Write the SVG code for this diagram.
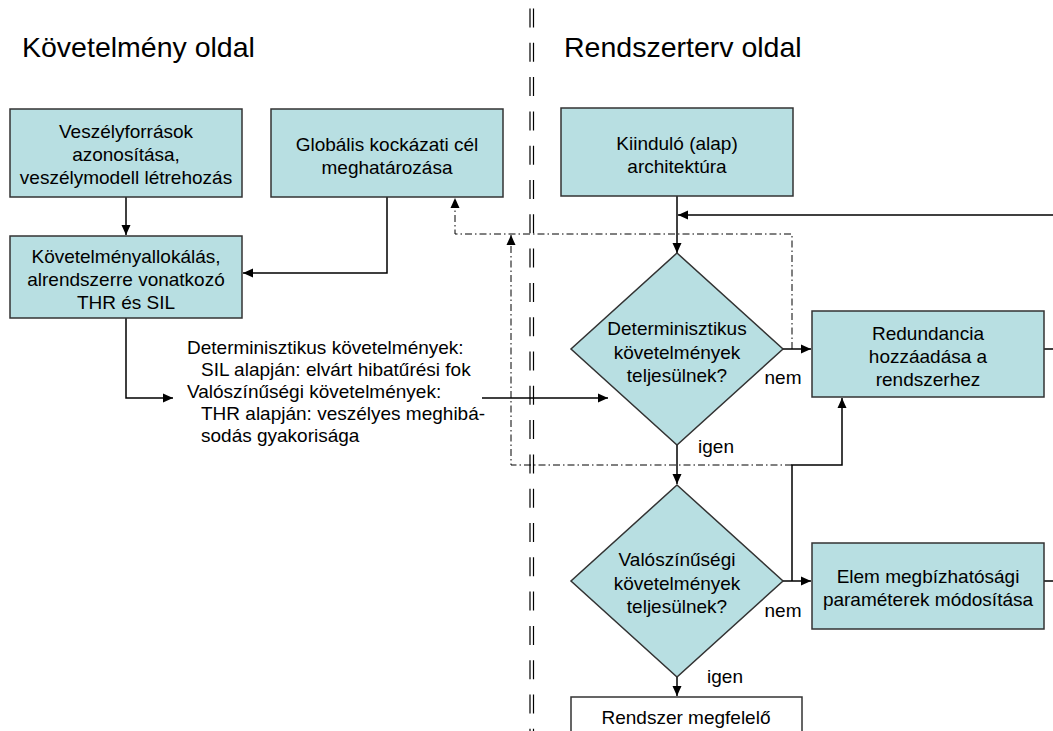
<svg xmlns="http://www.w3.org/2000/svg" width="1053" height="731" viewBox="0 0 1053 731">
<style>
.bg{fill:#ffffff}
.node{fill:#b8dfe2;stroke:#333333;stroke-width:1.5}
.white{fill:#ffffff;stroke:#333333;stroke-width:1.5}
text{font-family:"Liberation Sans",Arial,sans-serif;font-size:19px;fill:#000}
.c{text-anchor:middle}
.title{font-size:28.5px}
.conn{fill:none;stroke:#000;stroke-width:1.5}
.dd{fill:none;stroke:#000;stroke-width:1;stroke-dasharray:7 3 1.5 3}
.sep{stroke:#000;stroke-width:1.2;stroke-dasharray:19 15.3}
</style>
<defs>
<marker id="ah" viewBox="0 0 10 10" refX="10" refY="5" markerWidth="10" markerHeight="10" markerUnits="userSpaceOnUse" orient="auto">
<path d="M0,0.5 L10,5 L0,9.5 Z" fill="#000"/>
</marker>
</defs>
<rect class="bg" x="0" y="0" width="1053" height="731"/>
<g id="separator">
<line class="sep" x1="530" y1="8.5" x2="530" y2="731"/>
<line class="sep" x1="533.5" y1="8.5" x2="533.5" y2="731"/>
</g>
<g id="titles">
<text class="title" x="22" y="57">Követelmény oldal</text>
<text class="title" x="564" y="57">Rendszerterv oldal</text>
</g>
<g id="connectors">
<path class="conn" d="M126,197 V235" marker-end="url(#ah)"/>
<path class="conn" d="M387,197 V273 H243" marker-end="url(#ah)"/>
<path class="conn" d="M126,318 V398 H173" marker-end="url(#ah)"/>
<path class="conn" d="M482,398 H608" marker-end="url(#ah)"/>
<path class="conn" d="M677,196 V253" marker-end="url(#ah)"/>
<path class="conn" d="M1053,215 H678" marker-end="url(#ah)"/>
<path class="conn" d="M783,349 H811" marker-end="url(#ah)"/>
<path class="conn" d="M1044,349 H1053"/>
<path class="conn" d="M677,445 V484" marker-end="url(#ah)"/>
<path class="conn" d="M783,581 H811" marker-end="url(#ah)"/>
<path class="conn" d="M792,581 V465 H842 V398" marker-end="url(#ah)"/>
<path class="conn" d="M1044,581 H1053"/>
<path class="conn" d="M677,677 V696" marker-end="url(#ah)"/>
<path class="dd" d="M792,349 V234 H455 V198" marker-end="url(#ah)"/>
<path class="dd" d="M792,465 H511 V235" marker-end="url(#ah)"/>
</g>
<g id="n-veszely">
<rect class="node" x="10" y="109" width="232" height="88"/>
<text class="c" x="126" y="138">Veszélyforrások</text>
<text class="c" x="126" y="161">azonosítása,</text>
<text class="c" x="126" y="184">veszélymodell létrehozás</text>
</g>
<g id="n-globalis">
<rect class="node" x="271" y="109" width="232" height="88"/>
<text class="c" x="387" y="151">Globális kockázati cél</text>
<text class="c" x="387" y="174">meghatározása</text>
</g>
<g id="n-allokalas">
<rect class="node" x="10" y="236" width="232" height="82"/>
<text class="c" x="126" y="263">Követelményallokálás,</text>
<text class="c" x="126" y="286">alrendszerre vonatkozó</text>
<text class="c" x="126" y="309">THR és SIL</text>
</g>
<g id="n-kovetelmenyek-szoveg">
<text x="187" y="354">Determinisztikus követelmények:</text>
<text x="201" y="376">SIL alapján: elvárt hibatűrési fok</text>
<text x="187" y="398">Valószínűségi követelmények:</text>
<text x="201" y="420">THR alapján: veszélyes meghibá-</text>
<text x="201" y="442">sodás gyakorisága</text>
</g>
<g id="n-kiindulo">
<rect class="node" x="561" y="108" width="232" height="88"/>
<text class="c" x="677" y="150">Kiinduló (alap)</text>
<text class="c" x="677" y="173">architektúra</text>
</g>
<g id="n-det">
<polygon class="node" points="677,253 783,349 677,445 571,349"/>
<text class="c" x="677" y="335">Determinisztikus</text>
<text class="c" x="677" y="359">követelmények</text>
<text class="c" x="677" y="382">teljesülnek?</text>
<text class="c" x="783" y="384">nem</text>
<text class="c" x="716" y="453">igen</text>
</g>
<g id="n-redundancia">
<rect class="node" x="812" y="311" width="232" height="86"/>
<text class="c" x="928" y="340">Redundancia</text>
<text class="c" x="928" y="363">hozzáadása a</text>
<text class="c" x="928" y="386">rendszerhez</text>
</g>
<g id="n-val">
<polygon class="node" points="677,485 783,581 677,677 571,581"/>
<text class="c" x="677" y="566">Valószínűségi</text>
<text class="c" x="677" y="590">követelmények</text>
<text class="c" x="677" y="613">teljesülnek?</text>
<text class="c" x="783" y="617">nem</text>
<text class="c" x="725" y="683">igen</text>
</g>
<g id="n-elem">
<rect class="node" x="812" y="543" width="232" height="86"/>
<text class="c" x="928" y="583">Elem megbízhatósági</text>
<text class="c" x="928" y="606">paraméterek módosítása</text>
</g>
<g id="n-megfelelo">
<rect class="white" x="571" y="697" width="231" height="60"/>
<text class="c" x="686" y="724">Rendszer megfelelő</text>
</g>
</svg>
